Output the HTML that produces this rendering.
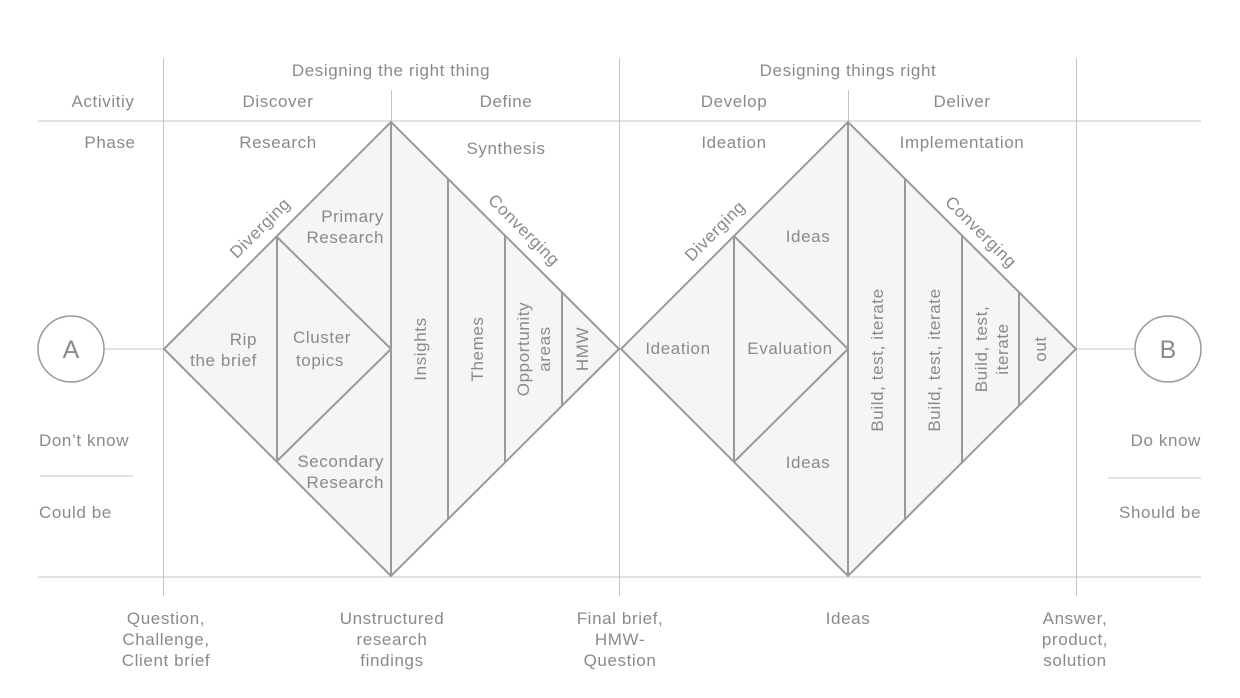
<!DOCTYPE html>
<html><head><meta charset="utf-8"><style>
body{margin:0;background:#fff}
svg{display:block}
text{font-family:"Liberation Sans",sans-serif;font-size:17px;fill:#8a8a8a;letter-spacing:0.6px}
</style></head><body>
<svg width="1240" height="698" viewBox="0 0 1240 698">
<g stroke="#c4c4c4" stroke-width="1" fill="none">
<line x1="38" y1="121" x2="1201" y2="121"/>
<line x1="38" y1="577" x2="1201" y2="577"/>
<line x1="163.5" y1="58" x2="163.5" y2="596"/>
<line x1="619.5" y1="58" x2="619.5" y2="596"/>
<line x1="1076.5" y1="58" x2="1076.5" y2="596"/>
<line x1="391.5" y1="90" x2="391.5" y2="122"/>
<line x1="848.5" y1="90" x2="848.5" y2="122"/>
<line x1="104" y1="349" x2="164" y2="349"/>
<line x1="1076" y1="349" x2="1136" y2="349"/>
<line x1="40" y1="476" x2="133" y2="476"/>
<line x1="1108" y1="478" x2="1201" y2="478"/>
</g>
<g stroke="#999" stroke-width="1.5" fill="#fff">
<circle cx="71" cy="349" r="33"/>
<circle cx="1168" cy="349" r="33"/>
</g>
<g stroke="#999" stroke-width="2" fill="#f5f5f5" stroke-linejoin="miter">
<polygon points="164,349 391,122 619,349 391,576"/>
<polygon points="621,349 848,122 1076,349 848,576"/>
</g>
<g stroke="#999" stroke-width="2" fill="none">
<polyline points="277,237 277,461"/>
<polyline points="277,237 391,349 277,461"/>
<line x1="391" y1="122" x2="391" y2="576"/>
<line x1="448" y1="179" x2="448" y2="519"/>
<line x1="505" y1="236" x2="505" y2="462"/>
<line x1="562" y1="293" x2="562" y2="405"/>
<polyline points="734,236 734,462"/>
<polyline points="734,236 848,349 734,462"/>
<line x1="848" y1="122" x2="848" y2="576"/>
<line x1="905" y1="179" x2="905" y2="519"/>
<line x1="962" y1="236" x2="962" y2="462"/>
<line x1="1019" y1="293" x2="1019" y2="405"/>
</g>
<g text-anchor="middle">
<text x="391" y="76">Designing the right thing</text>
<text x="848" y="76">Designing things right</text>
<text x="103" y="107">Activitiy</text>
<text x="278" y="107">Discover</text>
<text x="506" y="107">Define</text>
<text x="734" y="107">Develop</text>
<text x="962" y="107">Deliver</text>
<text x="110" y="148">Phase</text>
<text x="278" y="148">Research</text>
<text x="506" y="154">Synthesis</text>
<text x="734" y="148">Ideation</text>
<text x="962" y="148">Implementation</text>
<text x="71" y="358" style="font-size:25px;letter-spacing:0">A</text>
<text x="1168" y="358" style="font-size:25px;letter-spacing:0">B</text>
<text x="322" y="343">Cluster</text>
<text x="320" y="366">topics</text>
<text x="678" y="354">Ideation</text>
<text x="790" y="354">Evaluation</text>
<text x="808" y="242">Ideas</text>
<text x="808" y="468">Ideas</text>
<text x="166" y="624">Question,</text>
<text x="166" y="645">Challenge,</text>
<text x="166" y="666">Client brief</text>
<text x="392" y="624">Unstructured</text>
<text x="392" y="645">research</text>
<text x="392" y="666">findings</text>
<text x="620" y="624">Final brief,</text>
<text x="620" y="645">HMW-</text>
<text x="620" y="666">Question</text>
<text x="848" y="624">Ideas</text>
<text x="1075" y="624">Answer,</text>
<text x="1075" y="645">product,</text>
<text x="1075" y="666">solution</text>
</g>
<g text-anchor="end">
<text x="384" y="222">Primary</text>
<text x="384" y="243">Research</text>
<text x="384" y="467">Secondary</text>
<text x="384" y="488">Research</text>
<text x="257" y="345">Rip</text>
<text x="257" y="366">the brief</text>
<text x="1201" y="446">Do know</text>
<text x="1201" y="518">Should be</text>
</g>
<text x="39" y="446">Don’t know</text>
<text x="39" y="518">Could be</text>
<g text-anchor="middle">
<text transform="translate(264,232) rotate(-45)">Diverging</text>
<text transform="translate(520,234) rotate(45)">Converging</text>
<text transform="translate(719,235) rotate(-45)">Diverging</text>
<text transform="translate(977,236) rotate(45)">Converging</text>
<text transform="translate(426,349) rotate(-90)">Insights</text>
<text transform="translate(483,349) rotate(-90)">Themes</text>
<text transform="translate(529,349) rotate(-90)">Opportunity</text>
<text transform="translate(550,349) rotate(-90)">areas</text>
<text transform="translate(588,349) rotate(-90)">HMW</text>
<text transform="translate(883,360) rotate(-90)">Build, test, iterate</text>
<text transform="translate(940,360) rotate(-90)">Build, test, iterate</text>
<text transform="translate(987,349) rotate(-90)">Build, test,</text>
<text transform="translate(1008,349) rotate(-90)">iterate</text>
<text transform="translate(1046,349) rotate(-90)">out</text>
</g>
</svg>
</body></html>
